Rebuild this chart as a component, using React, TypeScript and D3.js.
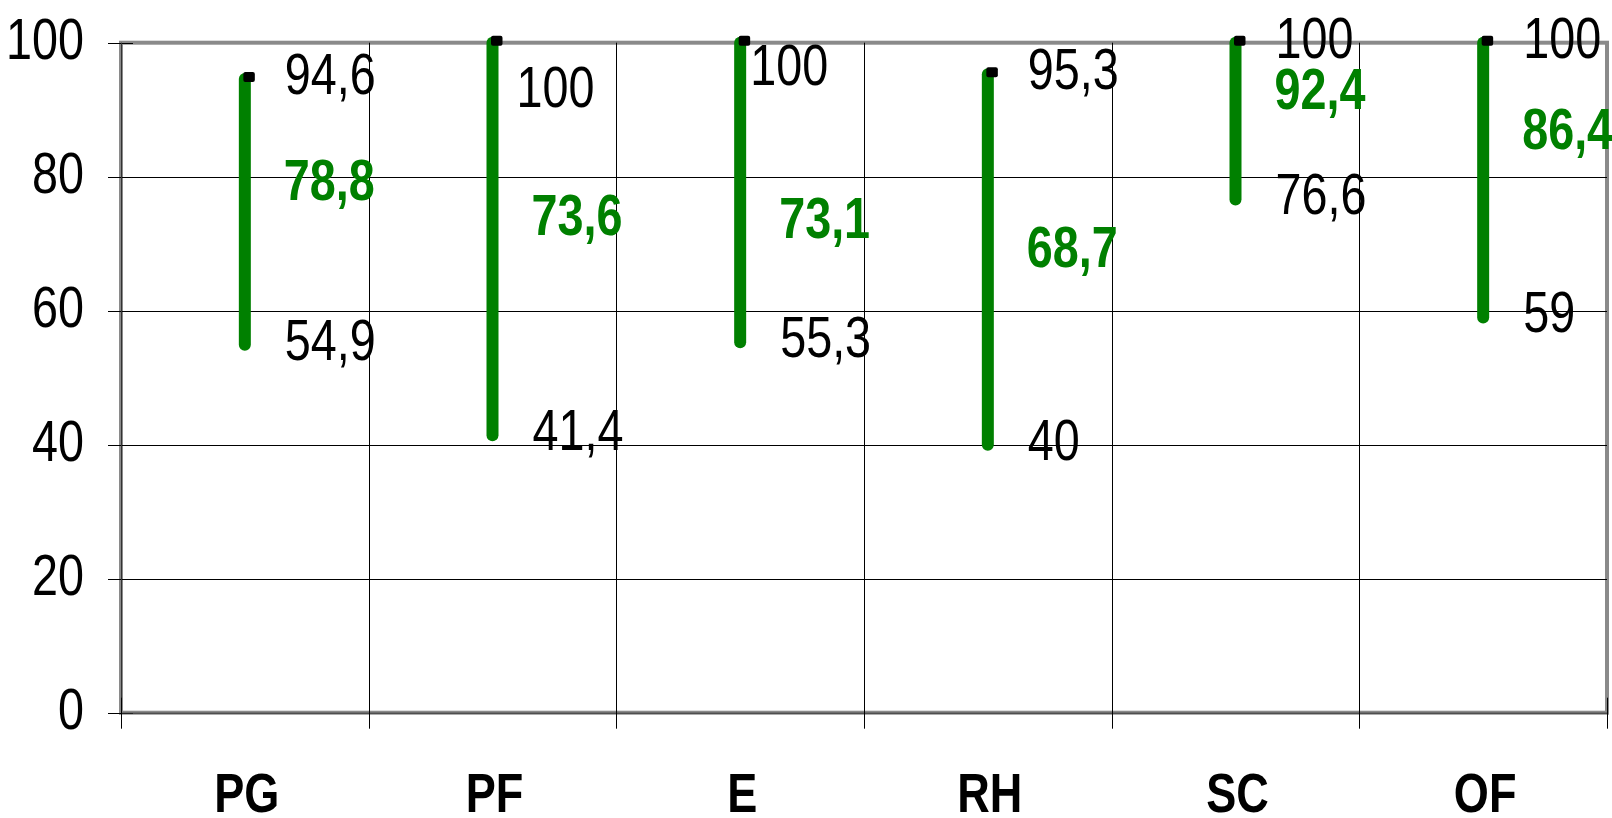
import React, { useEffect, useRef } from "react";
import * as d3 from "d3";

// values
const categories = ["PG", "PF", "E", "RH", "SC", "OF"];
const highValues = [94.6, 100, 100, 95.3, 100, 100];
const meanValues = [78.8, 73.6, 73.1, 68.7, 92.4, 86.4];
const lowValues = [54.9, 41.4, 55.3, 40, 76.6, 59];
const yTicks = [0, 20, 40, 60, 80, 100];

// label nudges for the high labels that were moved in the original (dx, dy)
const highLabelNudge = [[0, 0], [-16, 49], [-30, 27], [0, 0], [0, 0], [0, 0]];

const FONT = '"Liberation Sans", Arial, sans-serif';
const GREEN = "#008000";
const NARROW = 0.82; // fake arial narrow

const fmt = (v: number) => String(v).replace(".", ",");
const at = (x: number, y: number) => `translate(${x},${y}) scale(${NARROW},1)`;

export default function App() {
  const ref = useRef<SVGSVGElement>(null);

  useEffect(() => {
    const width = 1612,
      height = 818;
    const left = 121,
      right = 1607,
      top = 42.7,
      bottom = 712.7;

    const svg = d3.select(ref.current);
    svg.selectAll("*").remove();
    svg.attr("width", width).attr("height", height);

    const x = d3.scaleBand().domain(categories).range([left, right]);
    const y = d3.scaleLinear().domain([0, 100]).range([bottom, top]);

    const data = categories.map((c, i) => ({
      cat: c,
      high: highValues[i],
      mean: meanValues[i],
      low: lowValues[i],
      nudge: highLabelNudge[i],
    }));

    // plot frame
    svg
      .append("rect")
      .attr("x", left)
      .attr("y", top)
      .attr("width", right - left)
      .attr("height", bottom - top)
      .attr("fill", "none")
      .attr("stroke", "#8a8a8a")
      .attr("stroke-width", 4);

    // horizontal grid + y ticks
    svg
      .append("g")
      .selectAll("line")
      .data(yTicks)
      .enter()
      .append("line")
      .attr("x1", left - 13)
      .attr("x2", (d) => (d === 0 || d === 100 ? left + 12 : right))
      .attr("y1", (d) => Math.round(y(d)) + 0.5)
      .attr("y2", (d) => Math.round(y(d)) + 0.5)
      .attr("stroke", "#000")
      .attr("stroke-width", 1);

    // left and bottom axis lines
    svg
      .append("line")
      .attr("x1", left + 0.5)
      .attr("x2", left + 0.5)
      .attr("y1", top)
      .attr("y2", bottom)
      .attr("stroke", "#333");
    svg
      .append("line")
      .attr("x1", left)
      .attr("x2", right)
      .attr("y1", bottom + 0.5)
      .attr("y2", bottom + 0.5)
      .attr("stroke", "#333");

    // vertical category boundaries
    const bounds = categories.map((c) => x(c) as number).concat([right]);
    svg
      .append("g")
      .selectAll("line")
      .data(bounds)
      .enter()
      .append("line")
      .attr("x1", (d) => Math.round(d) + 0.5)
      .attr("x2", (d) => Math.round(d) + 0.5)
      .attr("y1", (d, i) => (i === 0 || i === bounds.length - 1 ? bottom - 15 : top))
      .attr("y2", bottom + 16)
      .attr("stroke", "#000")
      .attr("stroke-width", 1);

    // y tick labels
    svg
      .append("g")
      .selectAll("text")
      .data(yTicks)
      .enter()
      .append("text")
      .attr("transform", (d) => at(84, y(d) - 4))
      .attr("dy", "0.35em")
      .attr("text-anchor", "end")
      .style("font-family", FONT)
      .style("font-size", "57px")
      .text((d) => d);

    // category labels
    svg
      .append("g")
      .selectAll("text")
      .data(categories)
      .enter()
      .append("text")
      .attr("transform", (d) => at((x(d) as number) + x.bandwidth() / 2 + 2, 812))
      .attr("text-anchor", "middle")
      .style("font-family", FONT)
      .style("font-size", "55px")
      .style("font-weight", "bold")
      .text((d) => d);

    const cx = (d: { cat: string }) => (x(d.cat) as number) + x.bandwidth() / 2;

    // high-low lines
    svg
      .append("g")
      .selectAll("line")
      .data(data)
      .enter()
      .append("line")
      .attr("x1", cx)
      .attr("x2", cx)
      .attr("y1", (d) => y(d.low))
      .attr("y2", (d) => y(d.high))
      .attr("stroke", GREEN)
      .attr("stroke-width", 12)
      .attr("stroke-linecap", "round");

    // high markers
    svg
      .append("g")
      .selectAll("rect")
      .data(data)
      .enter()
      .append("rect")
      .attr("x", (d) => cx(d) - 1.5)
      .attr("y", (d) => y(d.high) - 7)
      .attr("width", 11.5)
      .attr("height", 10)
      .attr("rx", 2)
      .attr("fill", "#000");

    const labels = svg.append("g").style("font-family", FONT).style("font-size", "57px");

    labels
      .selectAll(".high")
      .data(data)
      .enter()
      .append("text")
      .attr("class", "high")
      .attr("transform", (d) => at(cx(d) + 40 + d.nudge[0], y(d.high) - 5 + d.nudge[1]))
      .attr("dy", "0.35em")
      .text((d) => fmt(d.high));

    labels
      .selectAll(".mean")
      .data(data)
      .enter()
      .append("text")
      .attr("class", "mean")
      .attr("transform", (d) => at(cx(d) + 39, y(d.mean) - 5))
      .attr("dy", "0.35em")
      .attr("fill", GREEN)
      .style("font-weight", "bold")
      .text((d) => fmt(d.mean));

    labels
      .selectAll(".low")
      .data(data)
      .enter()
      .append("text")
      .attr("class", "low")
      .attr("transform", (d) => at(cx(d) + 40, y(d.low) - 5))
      .attr("dy", "0.35em")
      .text((d) => fmt(d.low));
  }, []);

  return (
    <div style={{ position: "absolute", left: 0, top: 0, background: "#fff" }}>
      <svg ref={ref} style={{ display: "block" }}></svg>
    </div>
  );
}
